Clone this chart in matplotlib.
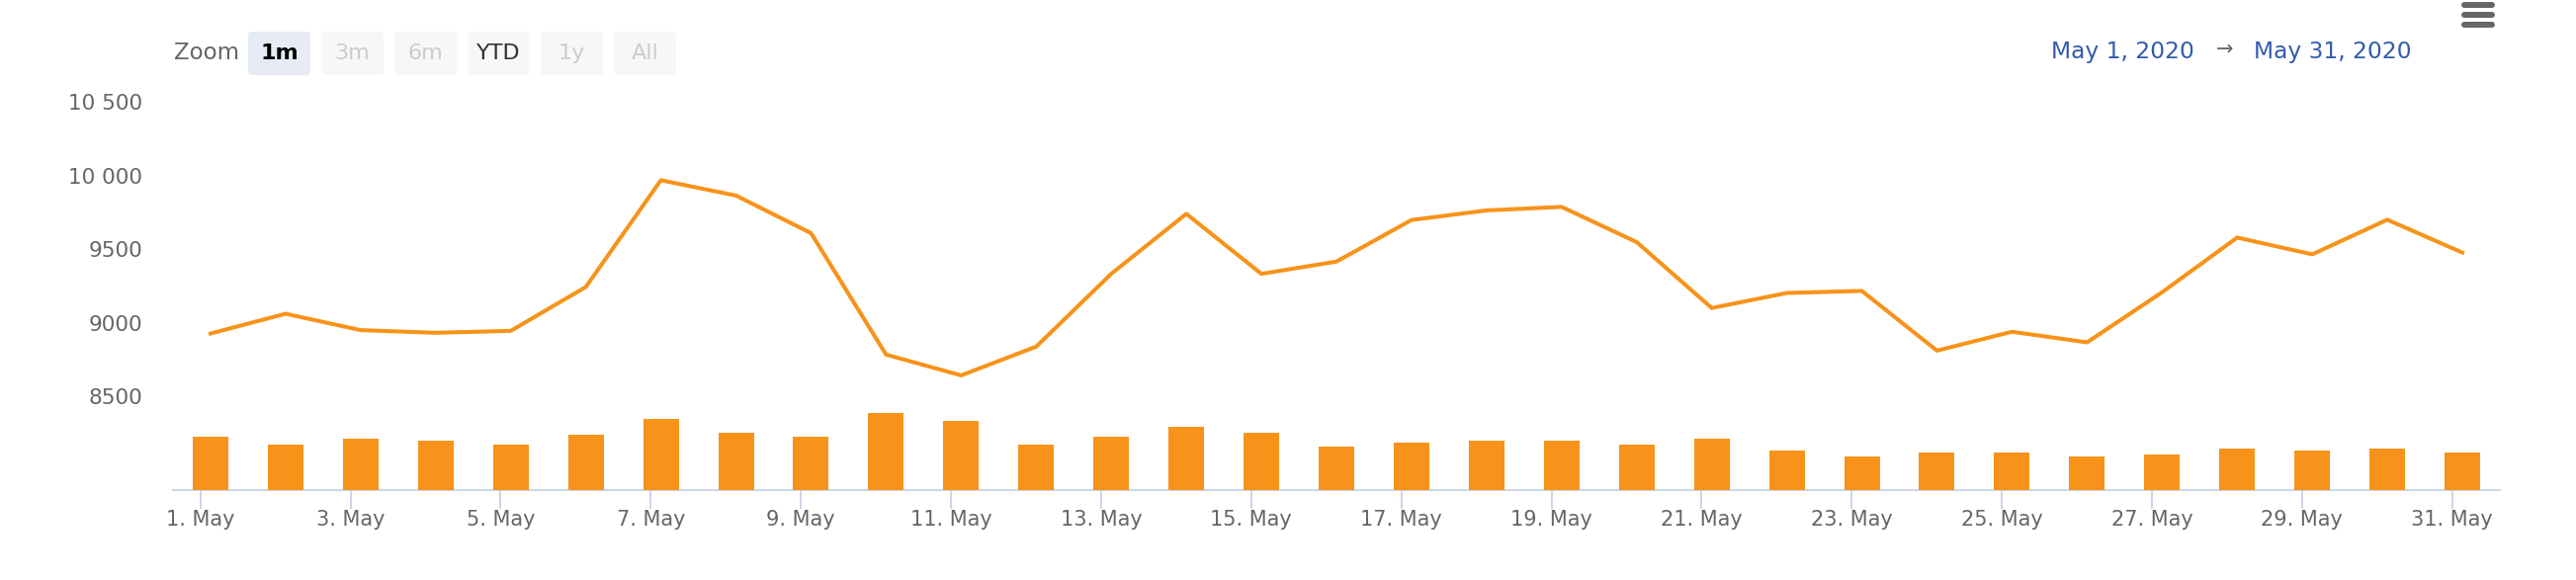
import numpy as np
import pandas as pd
import matplotlib
matplotlib.use("Agg")
import matplotlib.pyplot as plt
import matplotlib.dates as mdates
from matplotlib.ticker import FixedLocator, FuncFormatter
from matplotlib.patches import FancyBboxPatch

# daily close and volume, May 2020
price = [8928, 9062, 8951, 8933, 8946, 9244, 9968, 9864, 9609, 8785,
         8644, 8839, 9333, 9740, 9333, 9416, 9698, 9763, 9787, 9548,
         9101, 9203, 9217, 8812, 8940, 8868, 9208, 9579, 9465, 9700, 9477]
volume = [54, 46, 52, 50, 46, 56, 72, 58, 54, 78,
          70, 46, 54, 64, 58, 44, 48, 50, 50, 46,
          52, 40, 34, 38, 38, 34, 36, 42, 40, 42, 38]
dates = pd.date_range("2020-05-01 03:15", periods=31, freq="D")
tick_days = pd.date_range("2020-05-01", "2020-05-31", freq="2D")
price_ticks = [8500, 9000, 9500, 10000, 10500]
zoom_buttons = ["1m", "3m", "6m", "YTD", "1y", "All"]
range_from, range_to = "May 1, 2020", "May 31, 2020"

orange = "#f7931a"
grey = "#666666"
axis_col = "#ccd6eb"

W, H = 2606, 587
fig = plt.figure(figsize=(W / 100, H / 100), dpi=100)
plt.rcParams["font.family"] = ["DejaVu Sans"]

ax = fig.add_axes([175 / W, 1 - 496 / H, (2529 - 175) / W, (496 - 103) / H])
x = mdates.date2num(dates)

# volume bars on their own scale
axv = ax.twinx()
axv.bar(x, volume, width=0.474, color=orange, linewidth=0)
axv.set_ylim(0, 393)
axv.set_yticks([])
for s in axv.spines.values():
    s.set_visible(False)

ax.plot(x, price, color=orange, lw=2.9, solid_joinstyle="round", zorder=3)
ax.set_xlim(x[0] - 0.5, x[-1] + 0.5)
ax.set_ylim(7866, 10500)

ax.set_xticks(mdates.date2num(tick_days))
ax.xaxis.set_major_formatter(FuncFormatter(lambda v, p: f"{mdates.num2date(v).day}. May"))
ax.yaxis.set_major_locator(FixedLocator(price_ticks))
ax.yaxis.set_major_formatter(FuncFormatter(
    lambda v, p: f"{int(v):,}".replace(",", " ") if v >= 10000 else str(int(v))))

ax.tick_params(axis="x", length=13.7, width=1.44, color=axis_col,
               labelsize=15, labelcolor=grey, pad=0.5)
ax.tick_params(axis="y", length=0, pad=22, labelsize=15.5, labelcolor=grey)
for k in ("top", "left", "right"):
    ax.spines[k].set_visible(False)
ax.spines["bottom"].set_color(axis_col)
ax.spines["bottom"].set_linewidth(1.44)

# range selector / header bits, in pixel coords
ui = fig.add_axes([0, 0, 1, 1])
ui.set_xlim(0, W)
ui.set_ylim(H, 0)
ui.axis("off")

ui.text(176, 54, "Zoom", ha="left", va="center", fontsize=16.5, color=grey)
r = 4
for i, lab in enumerate(zoom_buttons):
    x0 = 251 + 74 * i
    face = "#e6ebf5" if lab == "1m" else "#f7f7f7"
    ui.add_patch(FancyBboxPatch((x0 + r, 32 + r), 63 - 2 * r, 44 - 2 * r,
                                boxstyle=f"round,pad={r}", fc=face, ec="none"))
    if lab == "1m":
        col, wt = "#000000", "bold"
    elif lab == "YTD":
        col, wt = "#333333", "normal"
    else:
        col, wt = "#cccccc", "normal"
    ui.text(x0 + 31.5, 54, lab, ha="center", va="center", fontsize=16,
            color=col, fontweight=wt)

ui.text(2220, 52, range_from, ha="right", va="center", fontsize=16.8, color="#335cad")
ui.text(2251, 50, "→", ha="center", va="center", fontsize=15, color=grey)
ui.text(2440, 52, range_to, ha="right", va="center", fontsize=16.8, color="#335cad")

for yy in (5, 15, 25):
    ui.plot([2493, 2521], [yy, yy], color=grey, lw=4.3, solid_capstyle="round")

fig.savefig("out.png", dpi=100)
